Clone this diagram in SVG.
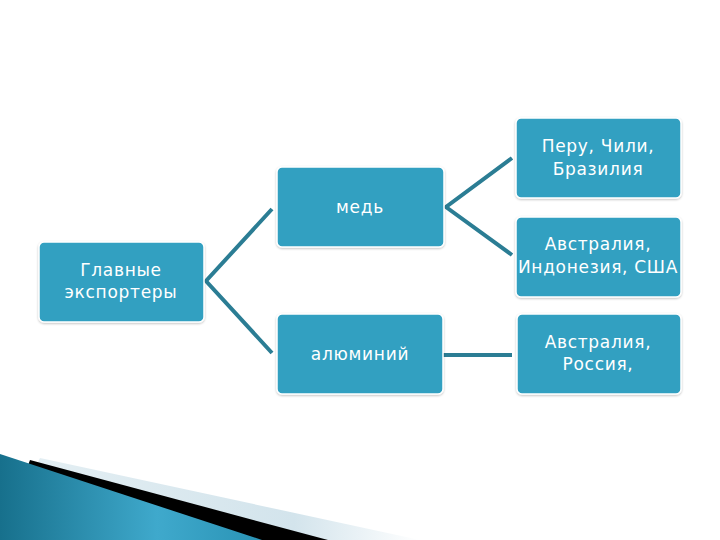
<svg xmlns="http://www.w3.org/2000/svg" width="720" height="540" viewBox="0 0 720 540">
<defs>
<linearGradient id="wedge" x1="0" y1="0" x2="1" y2="0">
<stop offset="0" stop-color="#17708c"/>
<stop offset="0.6" stop-color="#3fa9cc"/>
<stop offset="1" stop-color="#2a93b5"/>
</linearGradient>
<linearGradient id="light" x1="0" y1="0" x2="1" y2="0">
<stop offset="0" stop-color="#e6f0f4"/>
<stop offset="0.7" stop-color="#d3e4ec"/>
<stop offset="1" stop-color="#ffffff"/>
</linearGradient>
<filter id="sh" x="-10%" y="-10%" width="120%" height="130%">
<feDropShadow dx="0" dy="1" stdDeviation="1.2" flood-color="#000" flood-opacity="0.25"/>
</filter>
</defs>
<style>
.box{fill:#31a0c1;stroke:#ffffff;stroke-width:1.5;filter:url(#sh)}
.t{fill:#ffffff;font-family:"DejaVu Sans",sans-serif;font-size:17px;letter-spacing:0.7px;text-anchor:middle}
.c{fill:none;stroke:#2b7d94;stroke-width:4;stroke-linejoin:miter}
</style>
<rect width="720" height="540" fill="#ffffff"/>
<g id="decor">
<polygon points="40,458 420,540 0,540" fill="url(#light)"/>
<polygon points="30,460 328,540 0,540" fill="#000000"/>
<polygon points="0,454 262,540 0,540" fill="url(#wedge)"/>
</g>
<g id="connectors">
<polyline class="c" points="272,209 206,281 272,353"/>
<polyline class="c" points="512,158 446,207 512,255"/>
<line class="c" x1="443" y1="355" x2="512" y2="355"/>
</g>
<g id="n-main">
<rect class="box" x="39" y="242" width="165" height="80" rx="5"/>
<text class="t" x="121" y="276">Главные</text>
<text class="t" x="121" y="298">экспортеры</text>
</g>
<g id="n-copper">
<rect class="box" x="277" y="167" width="167" height="80" rx="5"/>
<text class="t" x="360" y="213">медь</text>
</g>
<g id="n-aluminium">
<rect class="box" x="277" y="314" width="166" height="80" rx="5"/>
<text class="t" x="360" y="360">алюминий</text>
</g>
<g id="n-peru">
<rect class="box" x="516" y="118" width="165" height="80" rx="5"/>
<text class="t" x="598" y="152">Перу, Чили,</text>
<text class="t" x="598" y="175">Бразилия</text>
</g>
<g id="n-aus-usa">
<rect class="box" x="516" y="217" width="165" height="80" rx="5"/>
<text class="t" x="598" y="250">Австралия,</text>
<text class="t" x="598" y="273">Индонезия, США</text>
</g>
<g id="n-aus-ru">
<rect class="box" x="517" y="314" width="164" height="80" rx="5"/>
<text class="t" x="598" y="348">Австралия,</text>
<text class="t" x="598" y="370">Россия,</text>
</g>
</svg>
